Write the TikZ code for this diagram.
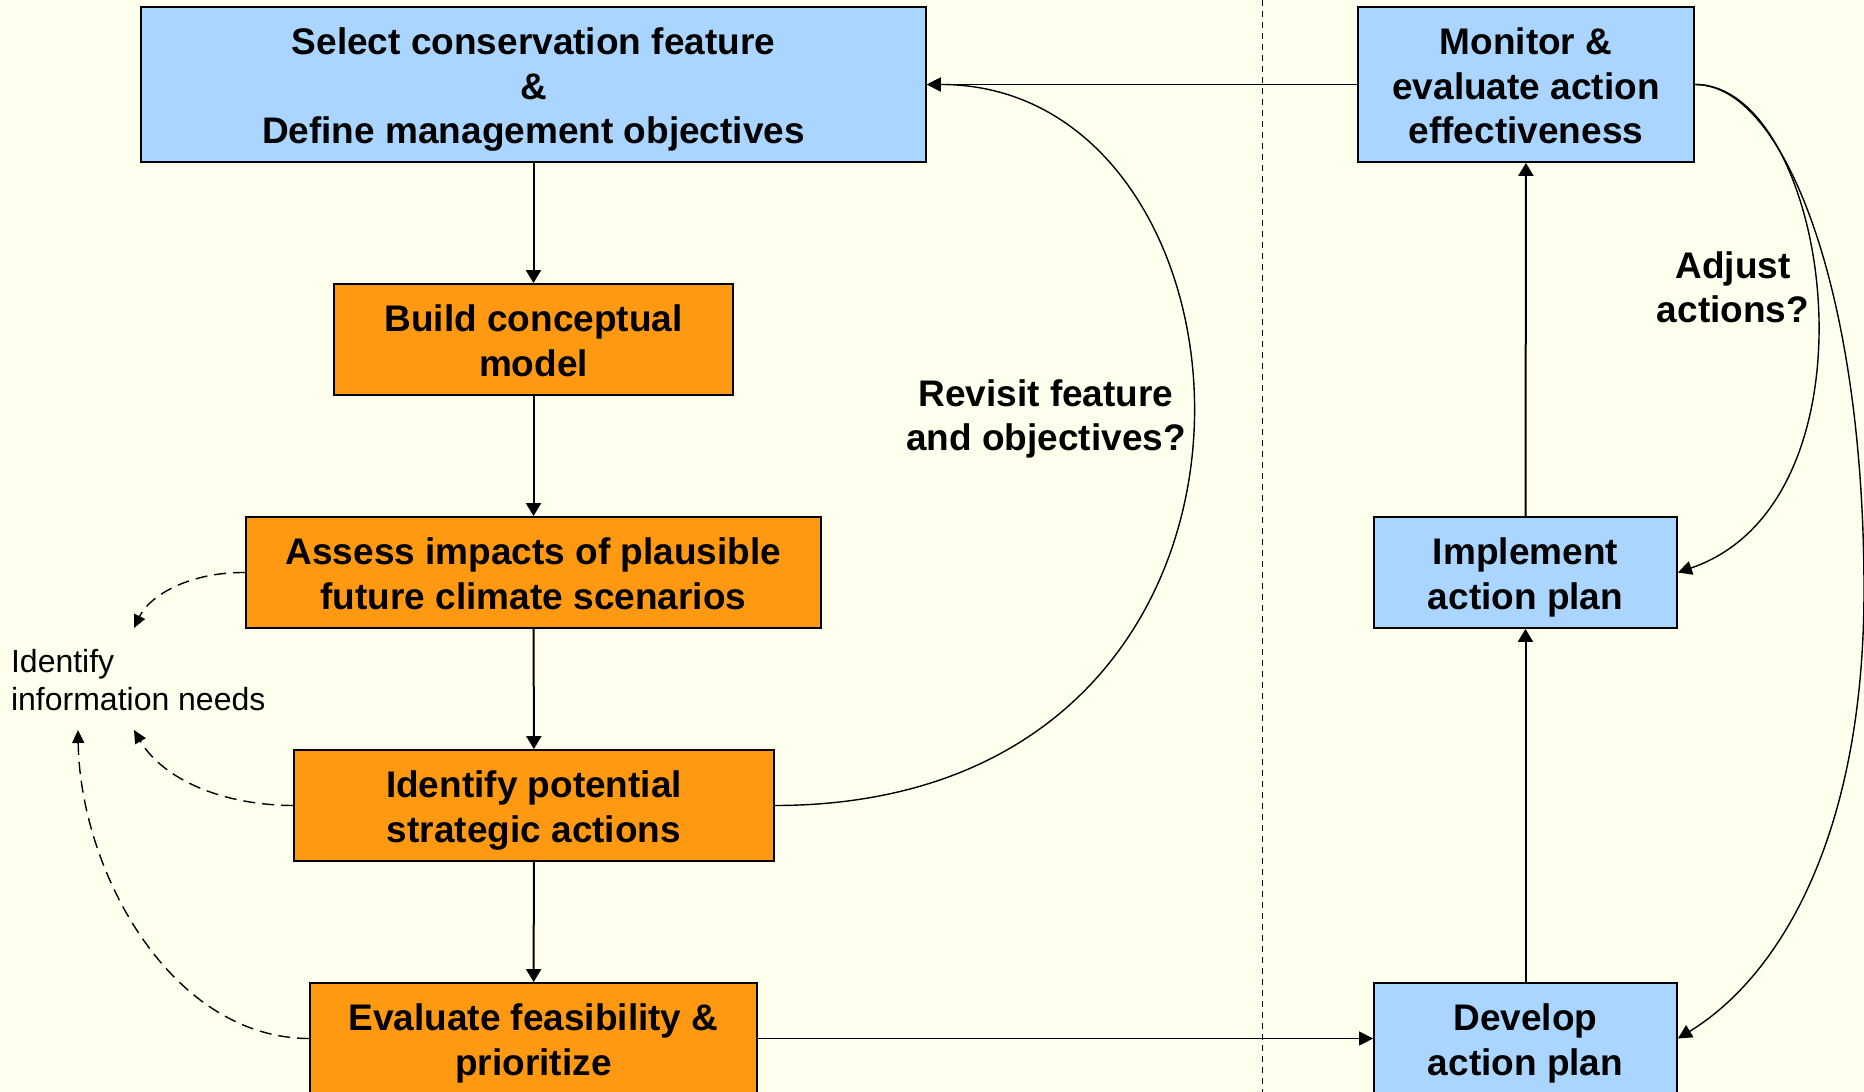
\documentclass[tikz,border=0pt]{standalone}
\usepackage{fontspec}
\setmainfont{Liberation Sans}
\usetikzlibrary{arrows.meta}
\definecolor{paper}{HTML}{FFFFEE}
\definecolor{skyfill}{HTML}{A9D5FF}
\definecolor{orangefill}{HTML}{FF9911}
% struts that give every text block the same top and bottom
\newcommand{\ts}{\rule{0pt}{18.5pt}}
\newcommand{\bs}{\rule[-4pt]{0pt}{4pt}}
\begin{document}
\begin{tikzpicture}[x=0.5pt,y=-0.5pt,
  boldtext/.style={align=center, font=\bfseries\fontsize{18.5}{22.3}\selectfont},
  box/.style={boldtext, draw=black, line width=0.9pt, inner sep=0pt},
  bluebox/.style={box, fill=skyfill},
  orangebox/.style={box, fill=orangefill},
  flow/.style={line width=1pt, -{Triangle[length=6.5pt,width=7.5pt]}},
  link/.style={line width=0.7pt, -{Triangle[length=7pt,width=7pt]}},
  need/.style={line width=0.7pt, dash pattern=on 6pt off 3.5pt, -{Triangle[length=6.5pt,width=6pt]}},
]
\useasboundingbox (0,0) rectangle (1864,1092);
\clip (0,0) rectangle (1864,1092);
\fill[paper] (0,0) rectangle (1864,1092);

% divider between planning and implementation
\draw[line width=0.5pt, dash pattern=on 3pt off 2.5pt] (1262.5,0) -- (1262.5,1092);

% planning column
\node[bluebox, minimum width=392.5pt, minimum height=77.5pt] (sel) at (533.5,84.5)
  {\ts Select conservation feature\\\&\\Define management objectives\bs};
\node[orangebox, minimum width=199.5pt, minimum height=55.5pt] (build) at (533.5,339.5)
  {\ts Build conceptual\\model\bs};
\node[orangebox, minimum width=287.5pt, minimum height=55.5pt] (assess) at (533.5,572.5)
  {\ts Assess impacts of plausible\\future climate scenarios\bs};
\node[orangebox, minimum width=240pt, minimum height=55.5pt] (ident) at (534,805.5)
  {\ts Identify potential\\strategic actions\bs};
\node[orangebox, minimum width=223.5pt, minimum height=55.5pt] (evalf) at (533.5,1038.5)
  {\ts Evaluate feasibility \&\\prioritize\bs};

% implementation column
\node[bluebox, minimum width=168pt, minimum height=77.5pt] (mon) at (1526,84.5)
  {\ts Monitor \&\\evaluate action\\effectiveness\bs};
\node[bluebox, minimum width=151.5pt, minimum height=55.5pt] (impl) at (1525.5,572.5)
  {\ts Implement\\action plan\bs};
\node[bluebox, minimum width=151.5pt, minimum height=55.5pt] (dev) at (1525.5,1038.5)
  {\ts Develop\\action plan\bs};

% labels
\node[align=left, anchor=west, font=\fontsize{16}{19}\selectfont] (needs) at (4,680)
  {Identify\\information needs};
\node[boldtext] (revisit) at (1046,414) {\ts Revisit feature\\and objectives?\bs};
\node[boldtext] (adjust) at (1733,286) {\ts Adjust\\actions?\bs};

\coordinate (n1) at (134,628);
\coordinate (n2) at (134,730);
\coordinate (n3) at (78,730);
\coordinate (farright) at (1864,590);

% main flow
\draw[flow] (sel) -- (build);
\draw[flow] (build) -- (assess);
\draw[flow] (assess) -- (ident);
\draw[flow] (ident) -- (evalf);
\draw[link] (evalf.east) -- (dev.west);
\draw[flow] (dev) -- (impl);
\draw[flow] (impl) -- (mon);
\draw[link] (mon.west) -- (sel.east);

% feedback loops
\draw[link] (ident.east) .. controls (1330,805) and (1280,84) .. (sel.east);
\draw[link] (mon.east) .. controls (1830,84) and (1890,500) .. (impl.east);
\draw[link] (mon.east) .. controls (1784,84) and (1864,290) .. (farright)
  .. controls (1864,840) and (1777,978) .. (dev.east);

% information needs
\draw[need] (assess.west) .. controls (190,572) and (150,595) .. (n1);
\draw[need] (ident.west) .. controls (215,805) and (160,775) .. (n2);
\draw[need] (evalf.west) .. controls (170,1038) and (80,870) .. (n3);
\end{tikzpicture}
\end{document}
